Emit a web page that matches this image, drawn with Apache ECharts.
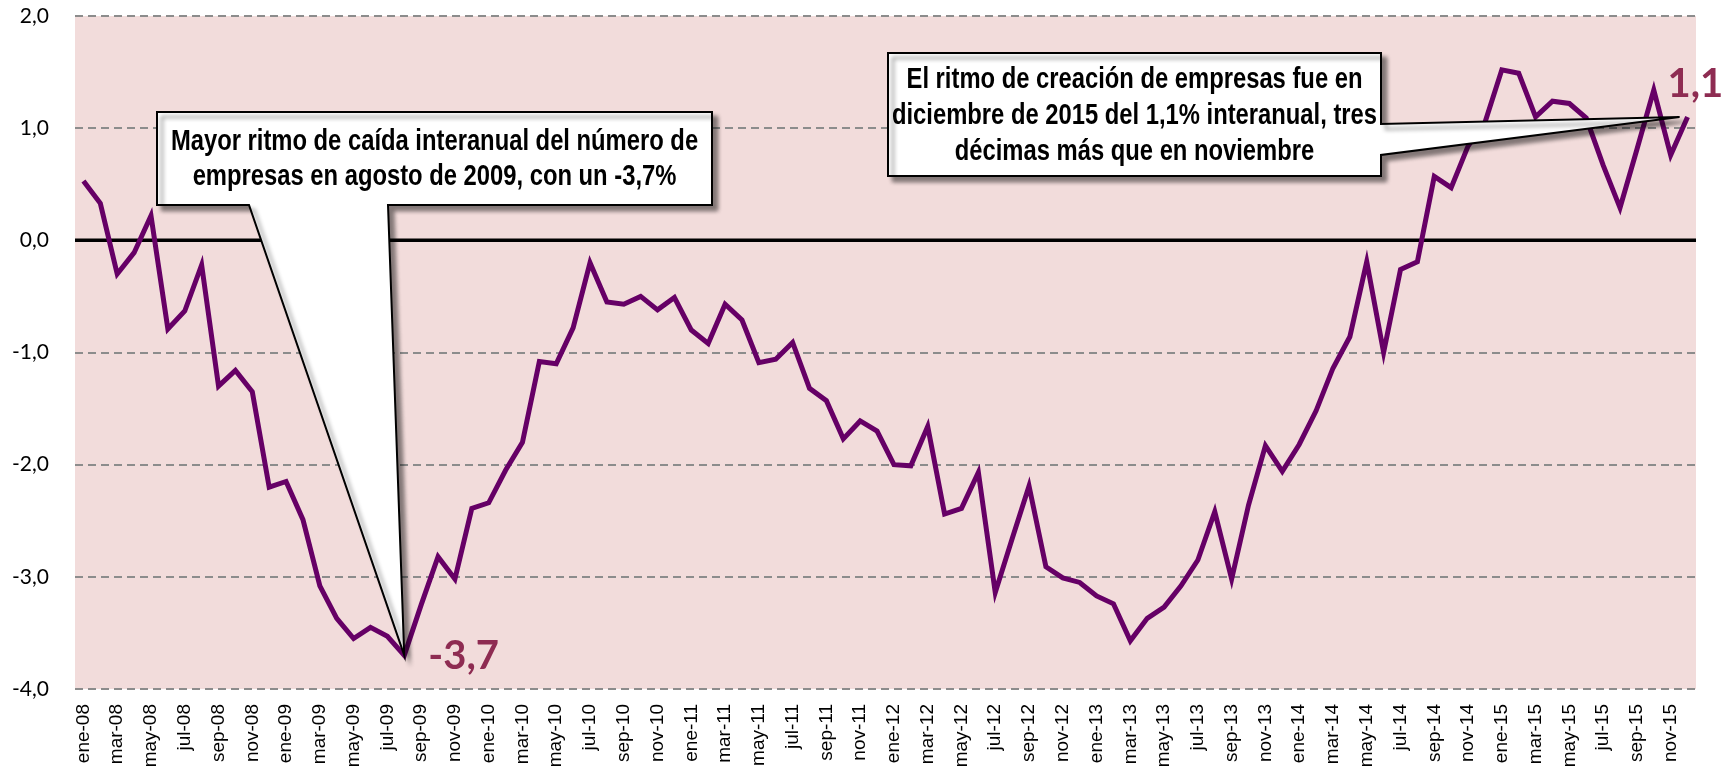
<!DOCTYPE html>
<html><head><meta charset="utf-8">
<script src="https://cdn.jsdelivr.net/npm/echarts@6/dist/echarts.min.js"></script>
<style>html,body{margin:0;padding:0;background:#fff}#c{width:1727px;height:772px}</style>
</head><body><div id="c"></div>
<script>
// ---- data ----
const monthAbbr = ['ene','feb','mar','abr','may','jun','jul','ago','sep','oct','nov','dic'];
const years = ['08','09','10','11','12','13','14','15'];
const categories = years.flatMap(y => monthAbbr.map(m => m + '-' + y));
const values2008 = [0.53, 0.33, -0.30, -0.11, 0.22, -0.79, -0.63, -0.22, -1.30, -1.16, -1.35, -2.20];
const values2009 = [-2.15, -2.49, -3.08, -3.37, -3.55, -3.45, -3.53, -3.70, -3.25, -2.82, -3.02, -2.39];
const values2010 = [-2.34, -2.05, -1.80, -1.08, -1.10, -0.78, -0.20, -0.55, -0.57, -0.50, -0.62, -0.51];
const values2011 = [-0.80, -0.92, -0.57, -0.71, -1.09, -1.06, -0.91, -1.32, -1.43, -1.77, -1.61, -1.70];
const values2012 = [-2.00, -2.01, -1.66, -2.44, -2.39, -2.07, -3.14, -2.66, -2.19, -2.91, -3.01, -3.05];
const values2013 = [-3.17, -3.24, -3.57, -3.37, -3.27, -3.08, -2.85, -2.42, -3.02, -2.36, -1.83, -2.06];
const values2014 = [-1.82, -1.52, -1.14, -0.86, -0.19, -1.00, -0.26, -0.19, 0.57, 0.47, 0.84, 1.05];
const values2015 = [1.52, 1.49, 1.10, 1.24, 1.22, 1.09, 0.67, 0.29, 0.81, 1.34, 0.76, 1.10];
const values = [].concat(values2008, values2009, values2010, values2011, values2012, values2013, values2014, values2015);
const yTicks = {min: -4, max: 2, interval: 1};
const zeroValue = 0;
const minIndex = 19;   // ago-09
const lastIndex = 95;  // dic-15
const callout1Text = 'Mayor ritmo de caída interanual del número de\nempresas en agosto de 2009, con un -3,7%';
const callout2Text = 'El ritmo de creación de empresas fue en\ndiciembre de 2015 del 1,1% interanual, tres\ndécimas más que en noviembre';
const minLabel = '-3,7';
const lastLabel = '1,1';

// ---- font detection ----
function hasFont(f) {
  const c = document.createElement('canvas').getContext('2d');
  const s = 'mmmmwwwlliiIO-08,ab';
  c.font = '40px monospace'; const a = c.measureText(s).width;
  c.font = '40px "' + f + '", monospace'; const b = c.measureText(s).width;
  c.font = '40px serif'; const a2 = c.measureText(s).width;
  c.font = '40px "' + f + '", serif'; const b2 = c.measureText(s).width;
  return a !== b || a2 !== b2;
}
const narrowAvail = hasFont('Liberation Sans Narrow');

const chart = echarts.init(document.getElementById('c'), null, {renderer: 'canvas'});
const xLabelFont = narrowAvail ? '"Liberation Sans Narrow"' : '"Liberation Sans"';
const xLabelSize = narrowAvail ? 23 : 19;

chart.setOption({
  animation: false,
  backgroundColor: '#ffffff',
  grid: {left: 75, right: 31, top: 16, bottom: 83, show: true, backgroundColor: '#F2DCDB', borderWidth: 0},
  xAxis: {
    type: 'category', data: categories, boundaryGap: true,
    axisLine: {show: false, onZero: false}, axisTick: {show: false},
    axisLabel: {interval: 1, rotate: 90, margin: 15, fontFamily: xLabelFont, fontSize: xLabelSize, color: '#000'},
    splitLine: {show: false}
  },
  yAxis: {
    type: 'value', min: yTicks.min, max: yTicks.max, interval: yTicks.interval,
    axisLine: {show: false}, axisTick: {show: false},
    axisLabel: {margin: 26, fontFamily: 'Lato', fontSize: 21, color: '#000',
      formatter: v => v.toFixed(1).replace('.', ',')},
    splitLine: {show: true, lineStyle: {color: '#8c8c8c', width: 2, type: [8, 5]}}
  },
  series: [{
    type: 'line', data: values, symbol: 'none', z: 3,
    lineStyle: {color: '#660066', width: 5, join: 'miter'}
  }]
});

function px(i) { return chart.convertToPixel({xAxisIndex: 0, yAxisIndex: 0}, [i, values[i]]); }
const p1 = px(minIndex);
const p2 = px(lastIndex);
const rect = chart.getModel().getComponent('grid', 0).coordinateSystem.getRect();
const zeroY = chart.convertToPixel({yAxisIndex: 0}, zeroValue);

const calloutFont = narrowAvail ? 'bold 29px "Liberation Sans Narrow"' : 'bold 29px "Liberation Sans"';
const calloutScale = narrowAvail ? 1 : 0.82;

const b1 = {x: 157, y: 112, w: 555, h: 93, t1: 249, t2: 388};
const b2 = {x: 888, y: 53, w: 493, h: 123, t1: 124, t2: 155};
const tip2 = [p2[0] - 8, p2[1]];

const shadow = {shadowBlur: 4, shadowOffsetX: 5, shadowOffsetY: 5, shadowColor: 'rgba(0,0,0,0.45)'};

chart.setOption({graphic: [
  {type: 'line', z: 1, silent: true,
    shape: {x1: rect.x, y1: zeroY, x2: rect.x + rect.width, y2: zeroY},
    style: {stroke: '#000', lineWidth: 3.5}},
  {type: 'polygon', z: 50, shape: {points: [
      [b1.x, b1.y], [b1.x + b1.w, b1.y], [b1.x + b1.w, b1.y + b1.h], [b1.t2, b1.y + b1.h],
      p1, [b1.t1, b1.y + b1.h], [b1.x, b1.y + b1.h]]},
    style: Object.assign({fill: '#fff', stroke: '#000', lineWidth: 2, lineJoin: 'miter'}, shadow)},
  {type: 'text', z: 51, x: b1.x + b1.w / 2, y: b1.y + b1.h / 2 + 1, scaleX: calloutScale,
    style: {text: callout1Text, font: calloutFont, fill: '#000', align: 'center', verticalAlign: 'middle', lineHeight: 35}},
  {type: 'polygon', z: 50, shape: {points: [
      [b2.x, b2.y], [b2.x + b2.w, b2.y], [b2.x + b2.w, b2.t1], tip2,
      [b2.x + b2.w, b2.t2], [b2.x + b2.w, b2.y + b2.h], [b2.x, b2.y + b2.h]]},
    style: Object.assign({fill: '#fff', stroke: '#000', lineWidth: 2, lineJoin: 'miter'}, shadow)},
  {type: 'text', z: 51, x: b2.x + b2.w / 2, y: b2.y + b2.h / 2 + 1, scaleX: calloutScale,
    style: {text: callout2Text, font: calloutFont, fill: '#000', align: 'center', verticalAlign: 'middle', lineHeight: 36}},
  {type: 'text', z: 52, x: p1[0] + 24, y: p1[1] + 1,
    style: {text: minLabel, font: 'bold 40px Lato', fill: '#8E2C52', align: 'left', verticalAlign: 'middle'}},
  {type: 'text', z: 52, x: p2[0] - 20, y: p2[1] - 33,
    style: {text: lastLabel, font: 'bold 40px Lato', fill: '#8E2C52', align: 'left', verticalAlign: 'middle'}}
]});
</script></body></html>
